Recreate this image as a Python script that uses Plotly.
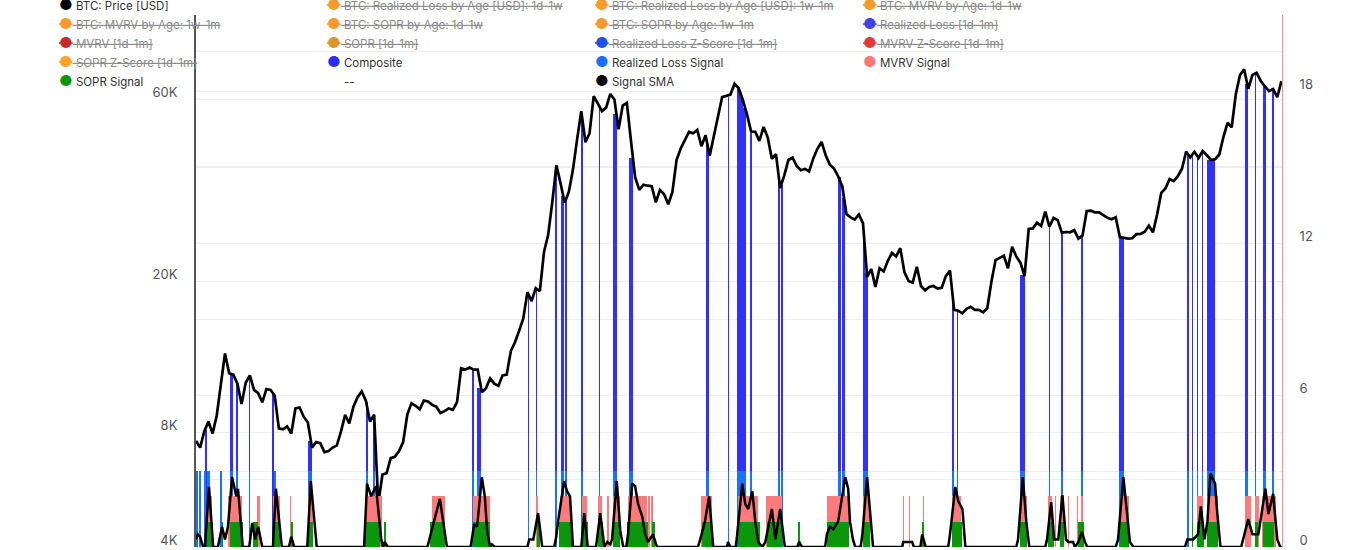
import pandas as pd
import plotly.graph_objects as go

# ---------------- data ----------------
PRICE_START = "2019-05-11"   # weekly samples
PRICE_USD = [
    # 2019
    7600, 7300, 8050, 8550, 7950, 8850, 10700, 12900, 11450, 11350, 10750, 9500,
    10800, 11300, 10350, 10150, 9600, 10400, 10350, 10000, 8200, 8150, 8300, 7950,
    9250, 9300, 8800, 8500, 7300, 7550, 7500, 7100, 7150, 7300,
    # 2020
    7400, 8050, 8900, 8450, 9350, 9900, 10250, 9700, 8550, 8900, 5200, 6200, 6250,
    6850, 6900, 7150, 7550, 8900, 9550, 9400, 9200, 9700, 9650, 9450, 9350, 9000,
    9100, 9250, 9170, 9600, 11800, 11700, 11850, 11700, 11700, 10200, 10450, 11100,
    10750, 10600, 11300, 11350, 13100, 13800, 14800, 15950, 18700, 17700, 19150,
    18800, 23850, 26400,
    # 2021
    32200, 40300, 36100, 32100, 34300, 39300, 47200, 55900, 46300, 48900, 61200,
    58300, 55900, 57100, 62000, 60000, 50100, 57800, 58800, 46700, 37500, 34700,
    35800, 35600, 35500, 32200, 34700, 33800, 31800, 34300, 41600, 44600, 47100,
    49300, 48900, 49900, 45200, 48300, 42700, 48200, 54900, 60900, 61300, 61800,
    66000, 64200, 59800, 54800, 49400, 49300, 46700, 50800,
    # 2022
    47700, 41900, 43100, 35100, 37900, 41600, 42200, 40100, 39100, 39400, 38800,
    42000, 44500, 46400, 42800, 40400, 39500, 37700, 35500, 30000, 29400, 29000,
    29900, 28400, 20500, 21500, 19300, 21600, 21200, 22600, 23700, 23200, 24400,
    21100, 20000, 19800, 21800, 19400, 18900, 19300, 19400, 19100, 19200, 20600,
    21300, 16800, 16700, 16450, 16900, 17100, 16800, 16800, 16550,
    # 2023
    16950, 19900, 22700, 23000, 23300, 21600, 24600, 23200, 22350, 20600, 27400,
    27500, 28450, 27900, 30450, 27800, 29300, 28900, 26800, 26900, 26850, 27200,
    25850, 26350, 30550, 30600, 30300, 30300, 29800, 29300, 29050, 29400, 26100,
    26000, 25850, 25900, 26550, 26600, 26950, 27950, 26850, 29900, 34100, 35000,
    37050, 36600, 37700, 39450, 43800, 42250, 43700, 42100,
    # 2024
    43900, 42800, 41600, 41800, 43000, 47800, 52100, 50700, 62000, 69500, 72000,
    64000, 69600, 70500, 67200, 64900, 63100, 63900, 60800, 67000,
]

# (start date, number of days, price level reached by the bar)
COMPOSITE_RUNS = [
    ("2019-05-26", 4, 8100), ("2019-07-07", 6, 11300), ("2019-07-19", 1, 10700),
    ("2019-08-09", 1, 11200), ("2019-09-18", 1, 10100), ("2019-11-16", 7, 7600),
    ("2020-02-22", 4, 9600), ("2020-03-05", 4, 8600),
    ("2020-08-21", 1, 11700), ("2020-08-28", 7, 10500), ("2020-11-22", 1, 18500),
    ("2020-12-06", 1, 19000), ("2021-01-08", 1, 38500), ("2021-01-17", 4, 33500),
    ("2021-01-25", 1, 32500), ("2021-02-21", 1, 54000), ("2021-03-22", 1, 57500),
    ("2021-04-15", 6, 55000), ("2021-05-12", 6, 42000), ("2021-09-19", 1, 46500),
    ("2021-09-22", 1, 45000), ("2021-10-26", 1, 61000), ("2021-11-10", 5, 64000),
    ("2021-11-15", 5, 61000), ("2021-11-20", 5, 57000), ("2021-12-03", 3, 49000),
    ("2022-01-20", 1, 37000), ("2022-01-25", 1, 35800), ("2022-05-01", 3, 37500),
    ("2022-05-08", 3, 33000), ("2022-06-11", 4, 25500), ("2022-06-15", 4, 21000),
    ("2022-11-09", 2, 18000), ("2022-11-17", 1, 16700), ("2023-03-03", 9, 20800),
    ("2023-04-22", 1, 28000), ("2023-05-12", 2, 26900), ("2023-06-16", 1, 26200),
    ("2023-08-18", 8, 26000), ("2023-12-12", 1, 43000), ("2023-12-19", 1, 43000),
    ("2023-12-28", 1, 42500), ("2024-01-05", 1, 43700), ("2024-01-14", 12, 41500),
    ("2024-03-18", 4, 66000), ("2024-04-04", 1, 69500), ("2024-04-17", 5, 64500),
    ("2024-05-03", 2, 63500),
]

# (start date, number of days) when each signal is on
REALIZED_LOSS_SIGNAL_RUNS = [
    ("2019-05-12", 2), ("2019-05-17", 1), ("2019-05-26", 2), ("2019-05-31", 3),
    ("2019-06-21", 3), ("2019-07-07", 6), ("2019-07-19", 1), ("2019-08-09", 1),
    ("2019-09-19", 4), ("2019-11-16", 7), ("2020-02-22", 4), ("2020-03-05", 4),
    ("2020-08-21", 1), ("2020-08-28", 7), ("2020-11-22", 1), ("2020-12-06", 1),
    ("2021-01-08", 1), ("2021-01-17", 4), ("2021-01-25", 1), ("2021-02-21", 1),
    ("2021-03-22", 1), ("2021-04-15", 6), ("2021-05-12", 6), ("2021-09-19", 1),
    ("2021-09-22", 1), ("2021-10-26", 1), ("2021-11-10", 15), ("2021-12-03", 3),
    ("2022-01-20", 1), ("2022-01-25", 1), ("2022-05-01", 3), ("2022-05-08", 3),
    ("2022-06-11", 8), ("2022-11-09", 2), ("2022-11-17", 1), ("2023-03-03", 9),
    ("2023-04-22", 1), ("2023-05-12", 2), ("2023-06-16", 1), ("2023-08-18", 8),
    ("2023-12-12", 1), ("2023-12-19", 1), ("2023-12-28", 1), ("2024-01-05", 1),
    ("2024-01-14", 12), ("2024-03-18", 4), ("2024-04-04", 1), ("2024-04-17", 5),
    ("2024-05-03", 2),
]
MVRV_SIGNAL_RUNS = [
    ("2019-05-30", 8), ("2019-07-04", 24), ("2019-08-22", 5), ("2019-09-18", 12),
    ("2019-10-17", 1), ("2019-11-16", 9), ("2020-02-21", 28), ("2020-06-12", 22),
    ("2020-08-21", 28), ("2020-12-06", 3), ("2021-01-15", 18), ("2021-02-21", 9),
    ("2021-03-20", 7), ("2021-04-06", 2), ("2021-04-15", 12), ("2021-05-10", 32),
    ("2021-06-14", 2), ("2021-06-19", 2), ("2021-09-10", 19), ("2021-11-12", 34),
    ("2021-12-29", 27), ("2022-04-11", 37), ("2022-06-11", 12), ("2022-08-18", 1),
    ("2022-08-28", 1), ("2022-09-21", 1), ("2022-11-09", 14), ("2023-03-03", 12),
    ("2023-04-20", 7), ("2023-05-02", 1), ("2023-05-10", 6), ("2023-05-24", 1),
    ("2023-06-08", 1), ("2023-06-16", 1), ("2023-08-20", 14), ("2023-12-28", 9),
    ("2024-01-14", 18), ("2024-03-18", 9), ("2024-04-04", 6), ("2024-04-16", 23),
]
SOPR_SIGNAL_RUNS = [
    ("2019-05-30", 10), ("2019-06-24", 1), ("2019-07-07", 22), ("2019-08-15", 9),
    ("2019-09-20", 10), ("2019-10-20", 1), ("2019-11-16", 9), ("2020-02-21", 25),
    ("2020-03-25", 1), ("2020-06-10", 25), ("2020-08-21", 28), ("2020-12-07", 5),
    ("2021-01-13", 22), ("2021-02-21", 10), ("2021-03-20", 9), ("2021-04-15", 12),
    ("2021-05-08", 35), ("2021-06-20", 5), ("2021-09-12", 17), ("2021-11-12", 37),
    ("2021-12-31", 25), ("2022-02-22", 2), ("2022-04-11", 37), ("2022-06-11", 12),
    ("2022-09-19", 3), ("2022-11-09", 17), ("2023-03-03", 12), ("2023-04-20", 9),
    ("2023-05-10", 6), ("2023-06-10", 9), ("2023-08-20", 14), ("2023-12-19", 1),
    ("2023-12-28", 11), ("2024-01-14", 18), ("2024-04-04", 4), ("2024-04-17", 18),
]
SIGNAL_LEVELS = {"Realized Loss Signal": 3, "MVRV Signal": 2, "SOPR Signal": 1}

SMA_DATES = [
    "2019-05-11", "2019-05-14", "2019-05-18", "2019-05-23", "2019-05-26", "2019-06-02",
    "2019-06-09", "2019-06-17", "2019-06-24", "2019-06-29", "2019-07-04", "2019-07-11",
    "2019-07-18", "2019-07-21", "2019-07-29", "2019-08-09", "2019-08-14", "2019-08-19",
    "2019-08-24", "2019-08-31", "2019-09-18", "2019-09-23", "2019-10-03", "2019-10-15",
    "2019-10-19", "2019-10-24", "2019-11-15", "2019-11-21", "2019-12-01",
    "2020-02-19", "2020-02-24", "2020-03-02", "2020-03-10", "2020-03-19", "2020-03-22",
    "2020-03-25", "2020-03-30", "2020-06-05", "2020-06-26", "2020-07-08", "2020-08-17",
    "2020-08-23", "2020-08-28", "2020-09-05", "2020-09-10", "2020-09-14", "2020-09-19",
    "2020-09-22", "2020-09-27", "2020-11-21", "2020-11-24", "2020-12-01", "2020-12-09",
    "2020-12-16", "2021-01-05", "2021-01-08", "2021-01-13", "2021-01-22", "2021-01-27",
    "2021-02-01", "2021-02-06", "2021-02-20", "2021-02-25", "2021-03-03", "2021-03-17",
    "2021-03-24", "2021-03-31", "2021-04-05", "2021-04-10", "2021-04-13", "2021-04-21",
    "2021-04-27", "2021-05-02", "2021-05-07", "2021-05-10", "2021-05-17", "2021-05-22",
    "2021-05-27", "2021-06-03", "2021-06-08", "2021-06-13", "2021-06-21", "2021-06-28",
    "2021-09-05", "2021-09-09", "2021-09-17", "2021-09-24", "2021-10-01", "2021-10-24",
    "2021-10-26", "2021-10-30", "2021-11-08", "2021-11-10", "2021-11-19", "2021-11-24",
    "2021-11-29", "2021-12-06", "2021-12-11", "2021-12-16", "2021-12-23", "2021-12-28",
    "2022-01-08", "2022-01-14", "2022-01-22", "2022-01-30", "2022-02-20", "2022-02-23",
    "2022-02-28", "2022-04-08", "2022-04-11", "2022-04-16", "2022-04-22", "2022-04-30",
    "2022-05-12", "2022-05-17", "2022-05-20", "2022-05-25", "2022-05-29", "2022-06-07",
    "2022-06-10", "2022-06-18", "2022-06-23", "2022-06-28", "2022-08-16", "2022-08-18",
    "2022-09-02", "2022-09-05", "2022-09-16", "2022-09-19", "2022-09-25", "2022-11-02",
    "2022-11-05", "2022-11-14", "2022-11-19", "2022-11-26", "2022-12-01", "2023-02-25",
    "2023-02-28", "2023-03-08", "2023-03-14", "2023-03-19", "2023-04-15", "2023-04-18",
    "2023-04-25", "2023-04-30", "2023-05-07", "2023-05-14", "2023-05-20", "2023-05-24",
    "2023-06-01", "2023-06-04", "2023-06-10", "2023-06-16", "2023-06-21", "2023-06-25",
    "2023-08-12", "2023-08-16", "2023-08-25", "2023-08-31", "2023-09-05", "2023-09-11",
    "2023-12-07", "2023-12-11", "2023-12-21", "2023-12-29", "2024-01-03", "2024-01-09",
    "2024-01-14", "2024-01-19", "2024-01-27", "2024-01-30", "2024-02-05", "2024-03-11",
    "2024-03-14", "2024-03-23", "2024-03-30", "2024-04-04", "2024-04-09", "2024-04-21",
    "2024-04-26", "2024-05-04", "2024-05-11", "2024-05-16", "2024-05-19",
]
SMA_VALUES = [
    0.3, 0.5, 0.4, 0, 0, 2.37,
    0, 0, 0.8, 0.3, 0.8, 2.76,
    2.0, 2.3, 0, 0, 0.95, 0.3,
    0.8, 0, 0, 2.3, 0, 0,
    0.4, 0, 0, 2.6, 0,
    0, 2.5, 2.0, 2.4, 0.3, 0,
    0.2, 0, 0, 1.9, 0, 0,
    0.9, 0.8, 2.76, 2.0, 0.6, 0,
    0.1, 0, 0, 0.3, 0.3, 1.34,
    0, 0, 0.3, 1.2, 2.6, 2.2,
    2.0, 0, 0, 1.34, 0, 0,
    1.34, 0, 0.2, 0.1, 0.3, 2.6,
    0.6, 0, 0, 0.5, 2.5, 2.4,
    1.7, 1.2, 0.5, 0.2, 0.5, 0,
    0, 0.3, 1.0, 2.0, 0, 0,
    0.2, 0, 0, 0.4, 2.5, 1.7,
    1.5, 2.2, 1.0, 0.2, 0, 0.2,
    1.5, 0.3, 1.5, 0, 0, 0.2,
    0, 0, 0.5, 0.8, 0.7, 1.0,
    2.76, 2.3, 1.0, 0.3, 0, 0,
    0.5, 2.76, 1.5, 0, 0, 0.2,
    0.2, 0, 0, 0.5, 0, 0,
    0.5, 2.37, 1.8, 1.5, 0, 0,
    0.3, 2.76, 1.0, 0, 0, 0.3,
    1.77, 0.3, 0.3, 2.05, 0.3, 0.2,
    0.2, 0, 0.2, 0.6, 0.2, 0,
    0, 0.3, 2.76, 1.5, 0.2, 0,
    0, 0.3, 0.3, 0.5, 1.6, 0.3,
    1.0, 2.9, 2.5, 1.5, 0, 0,
    0.3, 1.1, 0.5, 0.5, 0.5, 2.3,
    1.3, 2.1, 0.3, 0, 0,
]

# legend entries: (name, bullet colour, shown on chart)
LEGEND_ENTRIES = [
    ("BTC: Price [USD]", "#000000", True),
    ("BTC: Realized Loss by Age [USD]: 1d-1w", "#f79a2e", False),
    ("BTC: Realized Loss by Age [USD]: 1w-1m", "#f79a2e", False),
    ("BTC: MVRV by Age: 1d-1w", "#f79a2e", False),
    ("BTC: MVRV by Age: 1w-1m", "#f79a2e", False),
    ("BTC: SOPR by Age: 1d-1w", "#f79a2e", False),
    ("BTC: SOPR by Age: 1w-1m", "#f79a2e", False),
    ("Realized Loss [1d-1m]", "#4040e8", False),
    ("MVRV [1d-1m]", "#c62a2a", False),
    ("SOPR [1d-1m]", "#dc962a", False),
    ("Realized Loss Z-Score [1d-1m]", "#1f50f0", False),
    ("MVRV Z-Score [1d-1m]", "#e23a3a", False),
    ("SOPR Z-Score [1d-1m]", "#ffa22a", False),
    ("Composite", "#2b2bff", True),
    ("Realized Loss Signal", "#1a6dff", True),
    ("MVRV Signal", "#ff7777", True),
    ("SOPR Signal", "#0a960a", True),
    ("--", None, True),
    ("Signal SMA", "#000000", True),
]
TEXT_SHOWN = "#333333"
TEXT_HIDDEN = "#8a8a8a"

COL_COMPOSITE = "#3030ff"
COL_RL_SIGNAL = "#1a72ff"
COL_MVRV_SIGNAL = "#ff7b7b"
COL_SOPR_SIGNAL = "#0c960c"
DAY_MS = 86400000

# ---------------- figure ----------------
price_dates = pd.date_range(PRICE_START, periods=len(PRICE_USD), freq="7D")


def run_bars(runs):
    xs, ws = [], []
    for r in runs:
        start = pd.Timestamp(r[0])
        n = r[1]
        xs.append(start + pd.Timedelta(hours=12 * n))
        ws.append(n * DAY_MS)
    return xs, ws


fig = go.Figure()

cx, cw = run_bars(COMPOSITE_RUNS)
fig.add_trace(go.Bar(x=cx, y=[r[2] for r in COMPOSITE_RUNS], width=cw,
                     marker=dict(color=COL_COMPOSITE, line=dict(width=0)),
                     yaxis="y", showlegend=False, legendgroup="Composite"))

fig.add_trace(go.Scatter(x=price_dates, y=PRICE_USD, mode="lines",
                         line=dict(color="#000000", width=2.7),
                         yaxis="y", showlegend=False, legendgroup="BTC: Price [USD]"))

for name, runs, col in [("Realized Loss Signal", REALIZED_LOSS_SIGNAL_RUNS, COL_RL_SIGNAL),
                        ("MVRV Signal", MVRV_SIGNAL_RUNS, COL_MVRV_SIGNAL),
                        ("SOPR Signal", SOPR_SIGNAL_RUNS, COL_SOPR_SIGNAL)]:
    bx, bw = run_bars(runs)
    fig.add_trace(go.Bar(x=bx, y=[SIGNAL_LEVELS[name]] * len(bx), width=bw,
                         marker=dict(color=col, line=dict(width=0)),
                         yaxis="y2", showlegend=False, legendgroup=name))

fig.add_trace(go.Scatter(x=pd.to_datetime(SMA_DATES), y=SMA_VALUES, mode="lines",
                         line=dict(color="#000000", width=2.5), cliponaxis=False,
                         yaxis="y2", showlegend=False, legendgroup="Signal SMA"))

# legend entries (hidden series are shown struck through and greyed)
for name, col, shown in LEGEND_ENTRIES:
    bullet_col = col if col else "rgba(0,0,0,0)"
    if shown:
        label = (f'<span style="color:{bullet_col};font-size:15px">●</span>'
                 f'<span style="color:{TEXT_SHOWN}"> {name}</span>')
    else:
        deco = "text-decoration:line-through;"
        label = (f'<span style="color:{bullet_col};font-size:15px;{deco}">●</span>'
                 f'<span style="color:{TEXT_HIDDEN};{deco}"> {name}</span>')
    fig.add_trace(go.Scatter(x=[None], y=[None], mode="lines", line=dict(width=0),
                             name=label, legendgroup=name, showlegend=True))

tick_font = dict(family="Inter, sans-serif", size=13, color="#555555")
LEFT_TICKS = [4000, 6000, 8000, 10000, 20000, 40000, 60000, 80000]
LEFT_TEXT = ["4K", "", "8K", "", "20K", "", "60K", ""]
RIGHT_TICKS = [0, 3, 6, 9, 12, 15, 18, 21]
RIGHT_TEXT = ["0", "", "6", "", "12", "", "18", ""]

fig.update_layout(
    width=1370, height=550,
    margin=dict(l=196, r=88, t=15, b=3, autoexpand=False),
    paper_bgcolor="#ffffff", plot_bgcolor="#ffffff",
    barmode="overlay", bargap=0,
    font=dict(family="Inter, sans-serif", size=12, color="#333333"),
    showlegend=True,
    legend=dict(orientation="h", x=-0.163, xanchor="left", y=1.045, yanchor="top",
                entrywidth=223, entrywidthmode="pixels",
                bgcolor="rgba(0,0,0,0)", font=dict(family="Inter, sans-serif",
                                                   size=11.5, color="#333333"),
                traceorder="normal"),
    xaxis=dict(type="date", range=["2019-05-11", "2024-05-19"], showgrid=False,
               showticklabels=False, zeroline=False, showline=False),
    yaxis=dict(type="log", range=[3.60206, 5.0], tickvals=LEFT_TICKS, ticktext=LEFT_TEXT,
               showgrid=True, gridcolor="#eeeeee", gridwidth=1, zeroline=False,
               showline=True, linecolor="#555555", linewidth=2,
               tickfont=tick_font, ticklabelstandoff=14, ticklabelshift=-7),
    yaxis2=dict(overlaying="y", side="right", range=[0, 21], tickvals=RIGHT_TICKS,
                ticktext=RIGHT_TEXT, showgrid=True, gridcolor="#eeeeee", gridwidth=1,
                zeroline=False, showline=True, linecolor="#ff9090", linewidth=1,
                tickfont=tick_font, ticklabelstandoff=14, ticklabelshift=-7),
)

fig.write_html("out.html")
